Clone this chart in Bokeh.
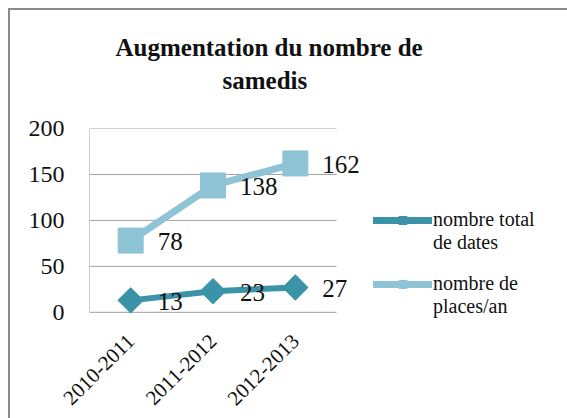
from bokeh.plotting import figure
from bokeh.models import (Legend, LegendItem, ColumnDataSource, FixedTicker,
                          LabelSet, Range1d, Title)
from bokeh.core.properties import value
from bokeh.embed import file_html
from bokeh.resources import INLINE
import math

categories = ["2010-2011", "2011-2012", "2012-2013"]
total_dates = [13, 23, 27]
places_an = [78, 138, 162]
y_ticks = [0, 50, 100, 150, 200]
title_lines = ["Augmentation du nombre de", "samedis"]
series_names = ["nombre total\nde dates", "nombre de\nplaces/an"]

DARK = "#3a93a9"
LIGHT = "#8fc3d6"
SERIF = "Liberation Serif"
GRID = "#a0a0a0"

xpos = list(range(len(categories)))
n = len(categories)
src = ColumnDataSource(dict(
    x=xpos,
    total=total_dates,
    places=places_an,
    total_lbl=[str(v) for v in total_dates],
    places_lbl=[str(v) for v in places_an],
))

# one category = 247/3 px; frame extended right/down to host labels & legend
p = figure(x_range=Range1d(-0.5, 5.22), y_range=Range1d(-10, 200),
           frame_width=471, frame_height=193,
           min_border_left=79, min_border_right=7,
           min_border_top=118, min_border_bottom=97,
           title=None,
           output_backend="svg", toolbar_location=None)
p.styles = {"margin-left": "8px", "margin-top": "8px",
            "border-top": "2px solid #8a8a8a", "border-left": "2px solid #8a8a8a"}

t2 = Title(text=title_lines[1], align="left", offset=133, standoff=70,
           text_font=SERIF, text_font_style="bold", text_font_size="25px",
           text_color="#111111")
t1 = Title(text=title_lines[0], align="left", offset=26, standoff=-62,
           text_font=SERIF, text_font_style="bold", text_font_size="25px",
           text_color="#111111")
p.add_layout(t2, "above")
p.add_layout(t1, "above")

p.outline_line_color = None
p.background_fill_color = "white"
p.border_fill_color = "white"

# axes
p.yaxis.ticker = FixedTicker(ticks=y_ticks)
p.yaxis.major_label_text_font = SERIF
p.yaxis.major_label_text_font_size = "24px"
p.yaxis.major_label_text_color = "#111111"
p.yaxis.major_label_standoff = 19
p.yaxis.major_tick_line_color = None
p.yaxis.minor_tick_line_color = None
p.yaxis.axis_line_color = None

p.xaxis.ticker = FixedTicker(ticks=xpos)
p.xaxis.major_label_overrides = {i: c for i, c in zip(xpos, categories)}
p.xaxis.major_label_text_font = SERIF
p.xaxis.major_label_text_font_size = "21px"
p.xaxis.major_label_text_color = "#111111"
p.xaxis.major_label_orientation = math.pi / 4
p.xaxis.major_tick_line_color = None
p.xaxis.minor_tick_line_color = None
p.xaxis.axis_line_color = None
p.xaxis.major_label_standoff = 10

p.xgrid.grid_line_color = None
p.ygrid.grid_line_color = None

# gridlines (incl. the x axis line at 0) and y axis line, only over the category span
p.segment(x0=[-0.5] * len(y_ticks), x1=[n - 0.5] * len(y_ticks),
          y0=y_ticks, y1=y_ticks, line_color=GRID, line_width=1)
p.segment(x0=[-0.5], x1=[-0.5], y0=[y_ticks[0]], y1=[y_ticks[-1]],
          line_color=GRID, line_width=1)

# series
p.line("x", "places", source=src, line_color=LIGHT, line_width=7)
p.scatter("x", "places", source=src, marker="square", size=25,
          fill_color=LIGHT, line_color=LIGHT)
p.line("x", "total", source=src, line_color=DARK, line_width=6)
p.scatter("x", "total", source=src, marker="square", angle=math.pi / 4, size=18,
          fill_color=DARK, line_color=DARK)

for col, lbl in (("places", "places_lbl"), ("total", "total_lbl")):
    p.add_layout(LabelSet(x="x", y=col, text=lbl, source=src,
                          x_offset=27, y_offset=-1, text_baseline="middle",
                          text_font=value(SERIF), text_font_size="25px",
                          text_color="#111111"))

# legend proxies (not visible in the plot)
nan = float("nan")
proxy = ColumnDataSource(dict(x=[nan], y=[nan]))
l1 = p.line("x", "y", source=proxy, line_color=DARK, line_width=7, line_cap="round")
m1 = p.scatter("x", "y", source=proxy, marker="square", angle=math.pi / 4, size=6,
               fill_color=DARK, line_color=DARK)
l2 = p.line("x", "y", source=proxy, line_color=LIGHT, line_width=7, line_cap="round")
m2 = p.scatter("x", "y", source=proxy, marker="square", size=13,
               fill_color=LIGHT, line_color=LIGHT)


def make_legend(label, renderers, loc):
    # a blank first line keeps the glyph level with the label's first line
    lg = Legend(items=[LegendItem(label="\n" + label, renderers=renderers)],
                location=loc)
    lg.label_text_font = SERIF
    lg.label_text_font_size = "20px"
    lg.label_text_color = "#111111"
    lg.glyph_width = 59
    lg.glyph_height = 20
    lg.label_standoff = 1
    lg.padding = 0
    lg.margin = 0
    lg.border_line_color = None
    lg.background_fill_alpha = 0
    p.add_layout(lg, "center")


make_legend(series_names[0], [l1, m1], (284, 67))
make_legend(series_names[1], [l2, m2], (284, 3))

open("out.html", "w").write(file_html(p, INLINE))
